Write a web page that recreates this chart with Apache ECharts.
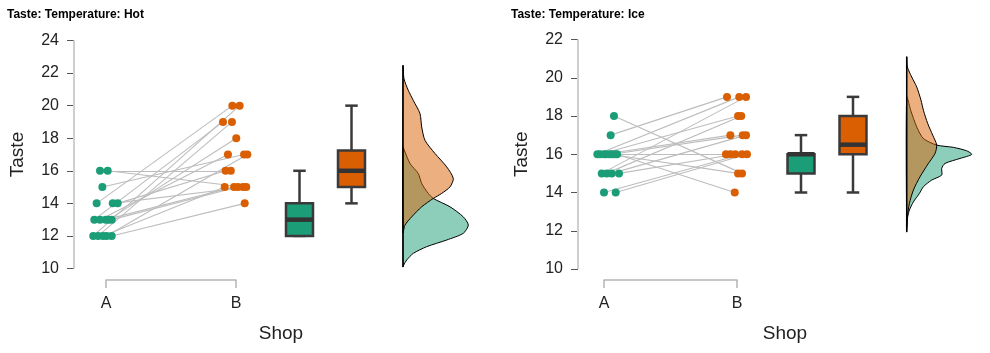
<!DOCTYPE html>
<html>
<head>
<meta charset="utf-8">
<script src="https://cdn.jsdelivr.net/npm/echarts@6/dist/echarts.min.js"></script>
<style>
html, body { margin: 0; padding: 0; background: #fff; }
#main { width: 990px; height: 353px; }
</style>
</head>
<body>
<div id="main"></div>
<script>
// paired scores per subject, shop A -> shop B
var hotA = [16, 16, 15, 14, 14, 14, 13, 13, 13, 13, 13, 12, 12, 12, 12, 12];
var hotB = [16, 15, 17, 20, 15, 16, 19, 17, 15, 15, 18, 20, 19, 17, 14, 15];
var hotAJitter = [-0.046, 0.013, -0.028, -0.072, 0.052, 0.09, -0.09, -0.046, -0.002, 0.044, 0.02, -0.098, -0.06, 0.005, 0.044, -0.023];
var hotBJitter = [-0.04, 0.054, 0.062, -0.028, 0.079, -0.08, -0.1, -0.062, -0.015, 0.015, 0.002, 0.028, -0.031, 0.087, 0.067, -0.087];

var iceA = [18, 17, 16, 16, 16, 16, 16, 16, 16, 16, 15, 15, 15, 15, 14, 14];
var iceB = [15, 19, 14, 19, 18, 17, 16, 15, 17, 16, 19, 18, 17, 16, 16, 16];
var iceAJitter = [0.075, 0.05, 0.098, -0.05, -0.03, 0, 0.015, 0.04, 0.06, 0.083, -0.017, 0.02, 0.058, 0.113, 0, 0.088];
var iceBJitter = [0.038, -0.075, -0.017, 0.017, 0.008, -0.05, -0.083, 0.008, 0.043, -0.05, 0.068, 0.032, 0.068, -0.013, 0.038, 0.075];

// box stats: [min, q1, median, q3, max]
var hotBox = [[12, 12, 13, 14, 16], [14, 15, 16, 17.25, 20]];
var iceBox = [[14, 15, 16, 16, 17], [14, 16, 16.5, 18, 19]];

// density curves: [taste, density]
var hotDensA = [[17.46, 0], [17.36, 0.007], [16.45, 0.07], [15.83, 0.153], [15.22, 0.187], [14.61, 0.253], [14.3, 0.303],
  [13.79, 0.47], [13.17, 0.603], [12.67, 0.653], [12.16, 0.603], [11.75, 0.437], [11.34, 0.237], [10.93, 0.103],
  [10.52, 0.037], [10.21, 0.007], [10.09, 0]];
var hotDensB = [[22.47, 0], [21.65, 0.01], [20.94, 0.053], [20.32, 0.103], [19.51, 0.17], [18.69, 0.187], [17.87, 0.22],
  [17.06, 0.32], [16.24, 0.437], [15.53, 0.503], [15.01, 0.47], [14.61, 0.387], [14.3, 0.303], [13.79, 0.187],
  [13.17, 0.087], [12.67, 0.02], [12.2, 0]];
var iceDensA = [[19.0, 0], [18.3, 0.04], [17.43, 0.1], [16.82, 0.167], [16.48, 0.3], [16.36, 0.467], [16.18, 0.6],
  [15.99, 0.65], [15.78, 0.533], [15.52, 0.383], [15.26, 0.35], [14.91, 0.35], [14.65, 0.25], [14.3, 0.167],
  [13.95, 0.127], [13.51, 0.067], [13.08, 0.027], [12.73, 0.01], [12.21, 0]];
var iceDensB = [[21.09, 0], [20.56, 0.007], [20.04, 0.05], [19.52, 0.1], [18.83, 0.143], [18.3, 0.167], [17.61, 0.21],
  [17.0, 0.26], [16.48, 0.3], [16.04, 0.283], [15.52, 0.217], [14.82, 0.133], [14.13, 0.067], [13.43, 0.027],
  [12.73, 0.007], [11.95, 0]];

var shops = ['A', 'B'];
var GREEN = '#1b9e77', ORANGE = '#d95f02';
var FONT = 'Liberation Sans, Arial, sans-serif';

var chart = echarts.init(document.getElementById('main'));

// x axis of the points grid (A / B bracket)
function shopAxis(gi, off) {
  return {
    gridIndex: gi, type: 'value', min: 0, max: 1, interval: 1, offset: off,
    axisLine: { show: true, onZero: false, lineStyle: { color: '#b5b5b5', width: 1.5 } },
    axisTick: { show: true, length: 8, lineStyle: { color: '#b5b5b5', width: 1.5 } },
    axisLabel: { margin: 16, fontSize: 16, color: '#222', fontFamily: FONT,
      formatter: function (v) { return shops[v]; } },
    splitLine: { show: false }
  };
}

// taste axis, pushed left of the points grid
// (its own line is kept transparent, the spine series draws it)
function tasteAxis(gi, yMax, off) {
  return {
    gridIndex: gi, type: 'value', min: 10, max: yMax, interval: 2, offset: off,
    name: 'Taste', nameLocation: 'middle', nameGap: 47, nameRotate: 90,
    nameTextStyle: { fontSize: 19, color: '#222', fontFamily: FONT },
    axisLine: { show: true, onZero: false, lineStyle: { color: 'rgba(0,0,0,0)', width: 2 } },
    axisTick: { show: true, length: 7, lineStyle: { color: '#555', width: 1 } },
    axisLabel: { margin: 15, fontSize: 16, color: '#222', fontFamily: FONT },
    splitLine: { show: false }
  };
}

// the light vertical spine of the taste axis
function tasteSpine(ai, yMax, off) {
  return {
    type: 'custom', xAxisIndex: ai, yAxisIndex: ai, silent: true, z: 1, clip: false,
    data: [0],
    renderItem: function (params, api) {
      var t = api.coord([0, yMax]), b = api.coord([0, 10]);
      var x = t[0] - off;
      return { type: 'line', shape: { x1: x, y1: t[1], x2: x, y2: b[1] },
        style: { stroke: '#cfcfcf', lineWidth: 2 } };
    }
  };
}

function hidX(gi, min, max) {
  return { gridIndex: gi, type: 'value', min: min, max: max, show: false, splitLine: { show: false } };
}
function hidY(gi, yMax) {
  return { gridIndex: gi, type: 'value', min: 10, max: yMax, show: false, splitLine: { show: false } };
}

function pairSeries(ai, a, b, aj, bj) {
  var lines = a.map(function (v, i) { return { coords: [[aj[i], v], [1 + bj[i], b[i]]] }; });
  return [
    { type: 'lines', coordinateSystem: 'cartesian2d', xAxisIndex: ai, yAxisIndex: ai, clip: false, silent: true, z: 2,
      lineStyle: { color: '#bdbdbd', width: 1.1, opacity: 1 }, data: lines },
    { type: 'scatter', xAxisIndex: ai, yAxisIndex: ai, clip: false, silent: true, z: 3, symbolSize: 8,
      itemStyle: { color: GREEN, opacity: 1 }, data: a.map(function (v, i) { return [aj[i], v]; }) },
    { type: 'scatter', xAxisIndex: ai, yAxisIndex: ai, clip: false, silent: true, z: 3, symbolSize: 8,
      itemStyle: { color: ORANGE, opacity: 1 }, data: b.map(function (v, i) { return [1 + bj[i], v]; }) }
  ];
}

function boxSeries(ai, stats) {
  var colors = [GREEN, ORANGE];
  return {
    type: 'custom', xAxisIndex: ai, yAxisIndex: ai, silent: true, z: 3,
    encode: { x: 0, y: [1, 2, 3, 4, 5] },
    data: stats.map(function (s, i) { return [i].concat(s); }),
    renderItem: function (params, api) {
      var x = api.value(0);
      var lo = api.coord([x, api.value(1)]), q1 = api.coord([x, api.value(2)]);
      var md = api.coord([x, api.value(3)]), q3 = api.coord([x, api.value(4)]);
      var hi = api.coord([x, api.value(5)]);
      var cx = lo[0], bw = 27, cw = 12.5;
      var ls = { stroke: '#3a3a3a', lineWidth: 2.5 };
      return { type: 'group', children: [
        { type: 'line', shape: { x1: cx, y1: hi[1], x2: cx, y2: q3[1] }, style: ls },
        { type: 'line', shape: { x1: cx, y1: q1[1], x2: cx, y2: lo[1] }, style: ls },
        { type: 'line', shape: { x1: cx - cw / 2, y1: hi[1], x2: cx + cw / 2, y2: hi[1] }, style: ls },
        { type: 'line', shape: { x1: cx - cw / 2, y1: lo[1], x2: cx + cw / 2, y2: lo[1] }, style: ls },
        { type: 'rect', shape: { x: cx - bw / 2, y: q3[1], width: bw, height: q1[1] - q3[1] },
          style: { fill: colors[params.dataIndex], stroke: '#3a3a3a', lineWidth: 2.5 } },
        { type: 'line', shape: { x1: cx - bw / 2, y1: md[1], x2: cx + bw / 2, y2: md[1] },
          style: { stroke: '#333', lineWidth: 4.5 } }
      ] };
    }
  };
}

function densitySeries(ai, curve, fill, z) {
  return {
    type: 'custom', xAxisIndex: ai, yAxisIndex: ai, silent: true, z: z,
    data: [0],
    renderItem: function (params, api) {
      var pts = curve.map(function (p) { return api.coord([p[1], p[0]]); });
      return { type: 'polygon', shape: { points: pts, smooth: 0.25 },
        style: { fill: fill, stroke: '#000', lineWidth: 1 } };
    }
  };
}

function baseLine(ai, ca, cb) {
  var top = Math.max(ca[0][0], cb[0][0]);
  var bottom = Math.min(ca[ca.length - 1][0], cb[cb.length - 1][0]);
  return {
    type: 'custom', xAxisIndex: ai, yAxisIndex: ai, silent: true, z: 6,
    data: [0],
    renderItem: function (params, api) {
      var p1 = api.coord([0, top]), p2 = api.coord([0, bottom]);
      return { type: 'line', shape: { x1: p1[0], y1: p1[1], x2: p2[0], y2: p2[1] },
        style: { stroke: '#000', lineWidth: 1.5 } };
    }
  };
}

var grids = [
  // hot: points, boxes, density
  { left: 106, top: 40.5, width: 130, height: 228 },
  { left: 273.5, top: 40.5, width: 104, height: 228 },
  { left: 403, top: 40.5, width: 80, height: 228 },
  // ice
  { left: 604, top: 39.5, width: 133, height: 229.5 },
  { left: 775, top: 39.5, width: 104, height: 229.5 },
  { left: 906.7, top: 39.5, width: 80, height: 229.5 }
].map(function (g) { g.outerBoundsMode = 'none'; g.containLabel = false; return g; });

chart.setOption({
  animation: false,
  backgroundColor: '#fff',
  title: [
    { text: 'Taste: Temperature: Hot', left: 7, top: 9, padding: 0,
      textStyle: { fontSize: 12, fontWeight: 'bold', color: '#000', fontFamily: FONT } },
    { text: 'Taste: Temperature: Ice', left: 511, top: 9, padding: 0,
      textStyle: { fontSize: 12, fontWeight: 'bold', color: '#000', fontFamily: FONT } }
  ],
  graphic: [
    { type: 'text', x: 281, y: 334, silent: true,
      style: { text: 'Shop', fontSize: 19, fontFamily: FONT, fill: '#222', align: 'center', verticalAlign: 'middle' } },
    { type: 'text', x: 785, y: 334, silent: true,
      style: { text: 'Shop', fontSize: 19, fontFamily: FONT, fill: '#222', align: 'center', verticalAlign: 'middle' } }
  ],
  grid: grids,
  xAxis: [shopAxis(0, 11.5), hidX(1, -0.5, 1.5), hidX(2, 0, 0.8),
          shopAxis(3, 11), hidX(4, -0.5, 1.5), hidX(5, 0, 0.8)],
  yAxis: [tasteAxis(0, 24, 32), hidY(1, 24), hidY(2, 24),
          tasteAxis(3, 22, 26), hidY(4, 22), hidY(5, 22)],
  series: [].concat(
    [tasteSpine(0, 24, 32)],
    pairSeries(0, hotA, hotB, hotAJitter, hotBJitter),
    [boxSeries(1, hotBox),
     densitySeries(2, hotDensA, 'rgba(27,158,119,0.5)', 4),
     densitySeries(2, hotDensB, 'rgba(217,95,2,0.5)', 5),
     baseLine(2, hotDensA, hotDensB)],
    [tasteSpine(3, 22, 26)],
    pairSeries(3, iceA, iceB, iceAJitter, iceBJitter),
    [boxSeries(4, iceBox),
     densitySeries(5, iceDensA, 'rgba(27,158,119,0.5)', 4),
     densitySeries(5, iceDensB, 'rgba(217,95,2,0.5)', 5),
     baseLine(5, iceDensA, iceDensB)]
  )
});
</script>
</body>
</html>
